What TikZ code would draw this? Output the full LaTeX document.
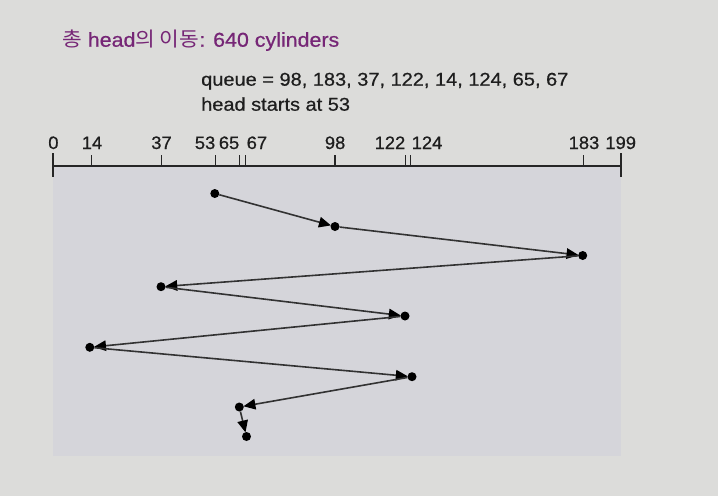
\documentclass[tikz,border=0pt]{standalone}
\usepackage{fontspec}
\setmainfont{Liberation Sans}
\newfontfamily\txtfont{Liberation Sans}[FakeBold=0.6]
\newfontfamily\krfont{Noto Sans CJK KR}
\usetikzlibrary{arrows.meta}
\definecolor{bgc}{RGB}{220,220,218}
\definecolor{panelc}{RGB}{213,213,218}
\definecolor{titlec}{RGB}{118,38,118}
\definecolor{txtc}{RGB}{30,30,30}
\definecolor{linec}{RGB}{50,50,50}
\tikzset{
  dot/.style={circle,fill=black,inner sep=0pt,minimum size=9pt},
  seg/.style={draw=linec,line width=1.6pt,-{Triangle[length=12pt,width=10.5pt,color=black]},shorten >=-0.5pt},
  tlab/.style={font=\txtfont\fontsize{18}{18}\selectfont,text=txtc,inner sep=0pt,xscale=1.02},
  axis/.style={line width=1.7pt,draw=black!85},
}
\begin{document}
\begin{tikzpicture}[x=1pt,y=-1pt]
\fill[bgc] (0,0) rectangle (718,496);
\useasboundingbox (0,0) rectangle (718,496);
\fill[panelc] (52.7,166) rectangle (620.7,456);
% title
\node[anchor=base west,inner sep=0pt,text=titlec,font=\txtfont\fontsize{20}{20}\selectfont,xscale=1.07] (title) at (62,46.7)
  {{\krfont 총} head{\krfont 의 이동}: 640 cylinders};
\node[anchor=base west,inner sep=0pt,text=txtc,font=\txtfont\fontsize{18.5}{18.5}\selectfont,xscale=1.08] (queue) at (201,85.7)
  {queue = 98, 183, 37, 122, 14, 124, 65, 67};
\node[anchor=base west,inner sep=0pt,text=txtc,font=\txtfont\fontsize{18.5}{18.5}\selectfont,xscale=1.08] (start) at (201,110.7)
  {head starts at 53};
% axis
\draw[axis] (52.7,166) -- (620.7,166);
\draw[axis] (52.7,153) -- (52.7,177);
\draw[axis] (620.7,153) -- (620.7,177);
\foreach \x in {91.3,161.5,215.5,239.3,245.4,335.1,405.6,410.6,583.8}
  \draw[line width=1.3pt,draw=black!85] (\x,155) -- (\x,166);
% tick labels
\node[tlab,anchor=base] (l0) at (53.4,149) {0};
\node[tlab,anchor=base] (l14) at (92,149) {14};
\node[tlab,anchor=base] (l37) at (161.5,149) {37};
\node[tlab,anchor=base east] (l53) at (215.5,149) {53};
\node[tlab,anchor=base east] (l65) at (239.5,149) {65};
\node[tlab,anchor=base west] (l67) at (246.5,149) {67};
\node[tlab,anchor=base] (l98) at (335.1,149) {98};
\node[tlab,anchor=base east] (l122) at (405.5,149) {122};
\node[tlab,anchor=base west] (l124) at (411.5,149) {124};
\node[tlab,anchor=base] (l183) at (584,149) {183};
\node[tlab,anchor=base] (l199) at (620.7,149) {199};
% dots
\node[dot] (d53) at (214.8,193.5) {};
\node[dot] (d98) at (335,226.5) {};
\node[dot] (d183) at (582.7,255.5) {};
\node[dot] (d37) at (161,286.7) {};
\node[dot] (d122) at (405,316) {};
\node[dot] (d14) at (89.8,347.3) {};
\node[dot] (d124) at (412,376.7) {};
\node[dot] (d65) at (239.3,407) {};
\node[dot] (d67) at (246.5,436.5) {};
% path
\draw[seg] (d53) -- (d98);
\draw[seg] (d98) -- (d183);
\draw[seg] (d183) -- (d37);
\draw[seg] (d37) -- (d122);
\draw[seg] (d122) -- (d14);
\draw[seg] (d14) -- (d124);
\draw[seg] (d124) -- (d65);
\draw[seg] (d65) -- (d67);
\end{tikzpicture}
\end{document}
